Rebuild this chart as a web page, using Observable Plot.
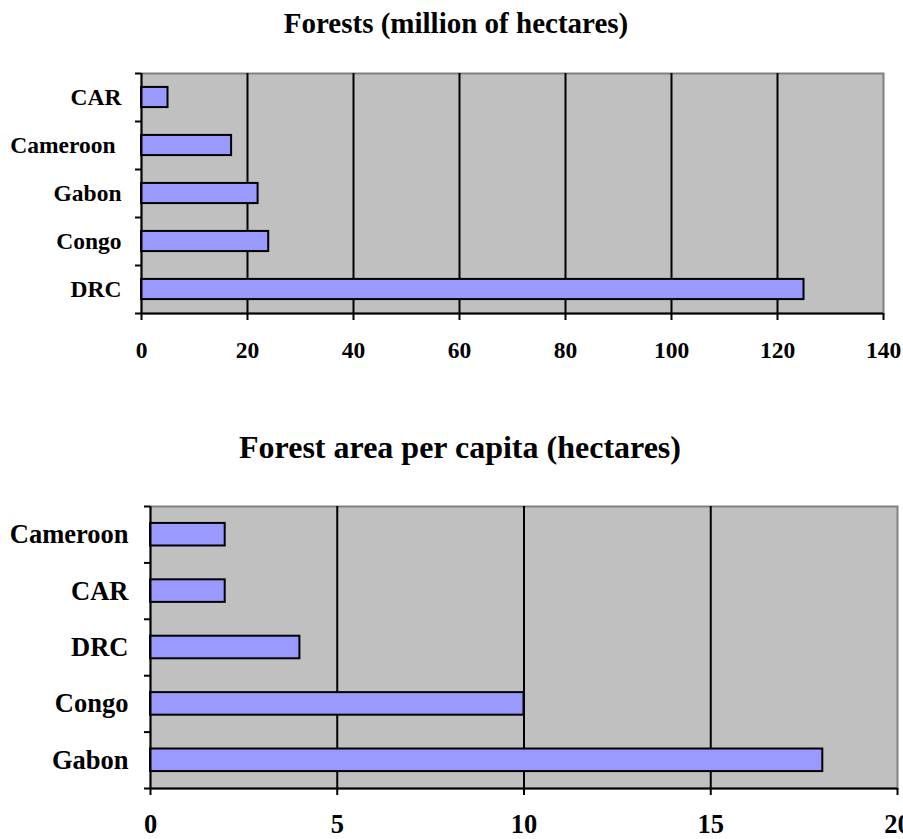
<!DOCTYPE html>
<html>
<head>
<meta charset="utf-8">
<script src="https://cdn.jsdelivr.net/npm/d3@7"></script>
<script src="https://cdn.jsdelivr.net/npm/@observablehq/plot@0.6"></script>
<style>
  html, body { margin: 0; padding: 0; background: #fff; overflow: hidden; }
  #wrap { position: relative; width: 903px; height: 839px; font-family: "Liberation Serif", "Times New Roman", serif; font-weight: bold; color: #000; }
  .title { position: absolute; white-space: nowrap; line-height: 1; transform: translateX(-50%); }
  .chart { position: absolute; left: 0; }
</style>
</head>
<body>
<div id="wrap">
  <div class="title" style="left:456px; top:9px; font-size:29px;">Forests (million of hectares)</div>
  <div class="chart" id="c1" style="top:45px;"></div>
  <div class="title" style="left:460px; top:431px; font-size:32px;">Forest area per capita (hectares)</div>
  <div class="chart" id="c2" style="top:480px;"></div>
</div>
<script>
// Chart 1: Forests (million of hectares), top to bottom
const forestCountries = ["CAR", "Cameroon\u00A0", "Gabon", "Congo", "DRC"];
const forestMillionHa = [5, 17, 22, 24, 125];
const forestTicks = [0, 20, 40, 60, 80, 100, 120, 140];

// Chart 2: Forest area per capita (hectares), top to bottom
const perCapitaCountries = ["Cameroon", "CAR", "DRC", "Congo", "Gabon"];
const perCapitaHa = [2, 2, 4, 10, 18];
const perCapitaTicks = [0, 5, 10, 15, 20];

const FONT = '"Liberation Serif", "Times New Roman", serif';

function barChart(o) {
  const n = o.countries.length;
  const rows = o.countries.map((name, i) => ({name, value: o.values[i], i}));
  const xMax = o.ticks[o.ticks.length - 1];
  return Plot.plot({
    width: o.width, height: o.height,
    marginLeft: o.marginLeft, marginRight: o.marginRight,
    marginTop: o.marginTop, marginBottom: o.marginBottom,
    style: {fontFamily: FONT, fontSize: o.fontSize + "px", fontWeight: "bold", color: "#000", background: "transparent", overflow: "visible"},
    x: {domain: [0, xMax], axis: null},
    y: {domain: [0, n], reverse: true, axis: null},
    marks: [
      Plot.frame({fill: "#c0c0c0", stroke: "#808080", strokeWidth: 2}),
      Plot.ruleX(o.ticks.slice(1, -1), {stroke: "#000", strokeWidth: 2}),
      Plot.rectX(rows, {
        x1: 0, x2: "value",
        y1: d => d.i + o.barPad, y2: d => d.i + 1 - o.barPad,
        fill: "#9999ff", stroke: "#000", strokeWidth: 2
      }),
      Plot.ruleX([0], {stroke: "#000", strokeWidth: 2}),
      Plot.ruleY([n], {stroke: "#000", strokeWidth: 2}),
      Plot.axisX(o.ticks, {tickSize: 7, tickPadding: o.xTickPad, strokeWidth: 2, fontSize: o.fontSize, fontWeight: "bold", fontFamily: FONT, label: null}),
      Plot.axisY(d3.range(n + 1), {tickSize: 6, strokeWidth: 2, fill: "none", label: null}),
      Plot.axisY(d3.range(n).map(i => i + 0.5), {
        tickSize: 0, tickPadding: o.labelPad,
        tickFormat: v => o.countries[Math.floor(v)],
        fontSize: o.fontSize, fontWeight: "bold", fontFamily: FONT, label: null
      })
    ]
  });
}

document.getElementById("c1").appendChild(barChart({
  countries: forestCountries, values: forestMillionHa, ticks: forestTicks,
  width: 903, height: 320, marginLeft: 141, marginRight: 20, marginTop: 28, marginBottom: 52,
  fontSize: 23.5, labelPad: 20, xTickPad: 20.5, barPad: 0.29
}));

document.getElementById("c2").appendChild(barChart({
  countries: perCapitaCountries, values: perCapitaHa, ticks: perCapitaTicks,
  width: 903, height: 359, marginLeft: 150, marginRight: 6, marginTop: 26, marginBottom: 51,
  fontSize: 26.5, labelPad: 22, xTickPad: 18.5, barPad: 0.30
}));
</script>
</body>
</html>
